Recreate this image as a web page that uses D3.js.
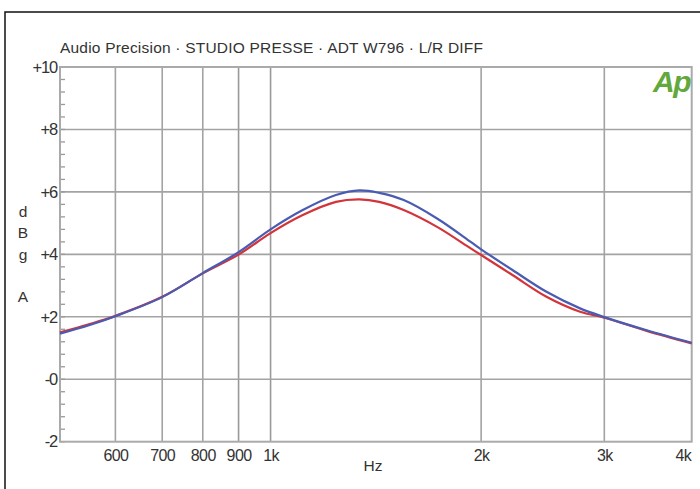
<!DOCTYPE html>
<html><head><meta charset="utf-8">
<script src="https://cdn.jsdelivr.net/npm/d3@7"></script>
<style>
body{margin:0;background:#fff;}
svg{display:block;}
text{font-family:"Liberation Sans",Arial,sans-serif;fill:#333;}
</style></head>
<body>
<svg id="c" width="700" height="489"></svg>
<script>
const title = "Audio Precision · STUDIO PRESSE · ADT W796 · L/R DIFF";
const freqs = [500, 550, 600, 700, 800, 900, 1000, 1110, 1240, 1340, 1430, 1550, 1730, 1930, 2000, 2220, 2480, 2770, 3000, 3450, 4000];
const blueVals = [1.46, 1.73, 2.02, 2.63, 3.40, 4.07, 4.80, 5.41, 5.90, 6.05, 5.97, 5.74, 5.15, 4.41, 4.16, 3.49, 2.80, 2.27, 1.99, 1.57, 1.17];
const redVals  = [1.50, 1.76, 2.03, 2.64, 3.39, 3.99, 4.68, 5.25, 5.68, 5.76, 5.68, 5.42, 4.88, 4.20, 3.98, 3.33, 2.64, 2.16, 1.97, 1.55, 1.15];
const xTicks = [600, 700, 800, 900, 1000, 2000, 3000, 4000];
const xTickLabels = ["600", "700", "800", "900", "1k", "2k", "3k", "4k"];
const yTicks = [-2, 0, 2, 4, 6, 8, 10];
const yTickLabels = ["-2", "-0", "+2", "+4", "+6", "+8", "+10"];
const yMinor = d3.range(-2, 10.001, 0.4);
const yTitle = ["d", "B", "g", "A"];

const svg = d3.select("#c");
const L = 60, R = 691.7, T = 67, B = 441.7;
const x = d3.scaleLog().domain([500, 4000]).range([L, R]);
const y = d3.scaleLinear().domain([-2, 10]).range([B, T]);
const FF = '"Liberation Sans",Arial,sans-serif';

// outer frame
svg.append("path").attr("d", `M5,489 V12 H700`).attr("fill", "none").attr("stroke", "#111").attr("stroke-width", 1.5);

// grid
const gridColor = "#a3a3a3";
svg.append("g").selectAll("line").data(xTicks.filter(d => d < 4000)).join("line")
  .attr("x1", d => x(d)).attr("x2", d => x(d)).attr("y1", T).attr("y2", B)
  .attr("stroke", (d) => (d === 900 || d === 1000) ? "#999" : gridColor).attr("stroke-width", 1.6);
svg.append("g").selectAll("line").data(yTicks.filter(d => d > -2 && d < 10)).join("line")
  .attr("x1", L).attr("x2", R).attr("y1", d => y(d)).attr("y2", d => y(d))
  .attr("stroke", gridColor).attr("stroke-width", 1.6);
// minor ticks
svg.append("g").selectAll("line").data(yMinor).join("line")
  .attr("x1", L).attr("x2", L + 5).attr("y1", d => y(d)).attr("y2", d => y(d))
  .attr("stroke", "#999").attr("stroke-width", 1.3);
// plot border
svg.append("rect").attr("x", L).attr("y", T).attr("width", R - L).attr("height", B - T)
  .attr("fill", "none").attr("stroke", "#aaa").attr("stroke-width", 2);

// axes labels via d3 axes
const xAxis = d3.axisBottom(x).tickValues(xTicks).tickSize(0).tickPadding(0)
  .tickFormat((d, i) => xTickLabels[i]);
const gx = svg.append("g").attr("transform", `translate(0,${B + 8})`).call(xAxis);
gx.select(".domain").remove();
gx.selectAll("text").attr("font-size", 16).attr("fill", "#333").attr("dy", "0.71em")
  .attr("letter-spacing", -0.6)
  .style("font-family", FF)
  .attr("text-anchor", (d) => d === 4000 ? "end" : "middle")
  .attr("x", (d) => d === 4000 ? -1 : 0);

const yAxis = d3.axisLeft(y).tickValues(yTicks).tickSize(0).tickPadding(3)
  .tickFormat((d, i) => yTickLabels[i]);
const gy = svg.append("g").attr("transform", `translate(${L},0)`).call(yAxis);
gy.select(".domain").remove();
gy.selectAll("text").attr("font-size", 16.5).attr("fill", "#333").attr("letter-spacing", -1.2)
  .style("font-family", FF);

// curves
const line = (vals) => d3.line().x((d, i) => x(freqs[i])).y(d => y(d)).curve(d3.curveCatmullRom)(vals);
svg.append("path").attr("d", line(redVals)).attr("fill", "none").attr("stroke", "#d3343a").attr("stroke-width", 2.2);
svg.append("path").attr("d", line(blueVals)).attr("fill", "none").attr("stroke", "#4a5cb2").attr("stroke-width", 2.2);

// title
svg.append("text").attr("x", 60).attr("y", 53).attr("font-size", 15.5).attr("fill", "#222")
  .attr("textLength", 423).attr("lengthAdjust", "spacing").text(title);

// axis titles
svg.append("text").attr("x", 373).attr("y", 471).attr("text-anchor", "middle").attr("font-size", 15.5).text("Hz");
const yTitleY = [217, 238, 260, 302];
svg.append("g").selectAll("text").data(yTitle).join("text")
  .attr("x", 23).attr("y", (d, i) => yTitleY[i]).attr("text-anchor", "middle").attr("font-size", 15.5).text(d => d);

// Ap logo
svg.append("text").attr("x", 690).attr("y", 92).attr("text-anchor", "end")
  .attr("font-size", 30).attr("font-weight", "bold").attr("font-style", "italic")
  .attr("letter-spacing", -1.5).style("fill", "#62a83c").text("Ap");
</script>
</body></html>
